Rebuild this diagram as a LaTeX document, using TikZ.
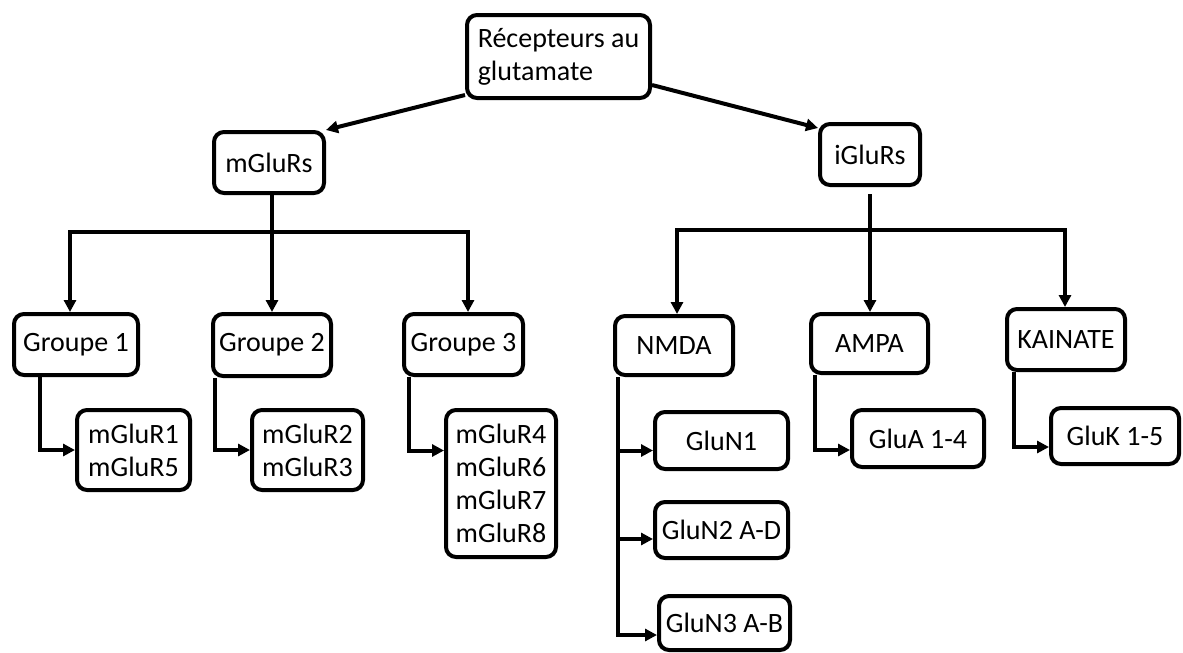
\documentclass[tikz,border=0pt]{standalone}
\usepackage{fontspec}
\setmainfont{Carlito}
\usetikzlibrary{arrows.meta}
\begin{document}
\begin{tikzpicture}[x=1pt,y=-1pt,
  box/.style={draw=black, line width=4pt, rounded corners=10pt, fill=white, inner sep=2pt, align=center, font=\fontsize{28}{33}\selectfont},
  sz/.style 2 args={minimum width=#1pt, minimum height=#2pt},
  ln/.style={line width=4pt},
  arr/.style={line width=4pt, -{Triangle[length=12pt,width=12pt]}},
  arrtwo/.style={line width=4pt, {Triangle[length=12pt,width=12pt]}-{Triangle[length=12pt,width=12pt]}},
]
\useasboundingbox (0,0) rectangle (1183,653);

% nodes
\node[box, sz={183}{83}, align=left] (top) at (558.5,56.5) {Récepteurs au\\glutamate};
\node[box, sz={110}{61}] (mglu) at (269,162.5) {mGluRs};
\node[box, sz={100}{61}] (iglu) at (870,154.5) {iGluRs};

\node[box, sz={124}{61}] (g1) at (76,344.5) {Groupe 1};
\node[box, sz={118}{62}] (g2) at (272,345) {Groupe 2};
\node[box, sz={119}{61}] (g3) at (463.5,344.5) {Groupe 3};

\node[box, sz={113}{80}] (m15) at (133.5,450) {mGluR1\\mGluR5};
\node[box, sz={111}{80}] (m23) at (307.5,450) {mGluR2\\mGluR3};
\node[box, sz={110}{147}] (m48) at (501,483.5) {mGluR4\\mGluR6\\mGluR7\\mGluR8};

\node[box, sz={118}{59}] (nmda) at (674,345.5) {NMDA};
\node[box, sz={117}{59}] (ampa) at (869.5,343.5) {AMPA};
\node[box, sz={118}{61}] (kai) at (1066,339.5) {KAINATE};

\node[box, sz={133}{57}] (n1) at (721.5,440.5) {GluN1};
\node[box, sz={133}{56}] (n2) at (721.5,530) {GluN2 A-D};
\node[box, sz={131}{54}] (n3) at (724.5,623) {GluN3 A-B};
\node[box, sz={132}{57}] (ga) at (918,438.5) {GluA 1-4};
\node[box, sz={128}{56}] (gk) at (1115,436) {GluK 1-5};

% top arrows
\draw[arr] ([yshift=5pt]top.south west) -- (mglu.north east);
\draw[arr] ([yshift=15pt]top.south east) -- ([yshift=-6pt]iglu.north west);

% mGluRs tree
\coordinate (mL) at (70,232);
\coordinate (mR) at (468,232);
\draw[arr] (g2.north |- mglu.south) -- (g2.north);
\draw[arrtwo] (mL |- g1.north) -- (mL) -- (mR) -- (mR |- g3.north);

% iGluRs tree
\coordinate (iL) at (677,230);
\coordinate (iR) at (1065,230);
\draw[arr] ([yshift=-7pt]iglu.south) -- (iglu.south |- ampa.north);
\draw[arrtwo] (iL |- nmda.north) -- (iL) -- (iR) -- (iR |- kai.north);

% sub-branches mGluRs
\draw[arr] ([xshift=28pt]g1.south west) |- (m15.west);
\draw[arr] ([xshift=4pt]g2.south west) |- (m23.west);
\draw[arr] ([xshift=7pt]g3.south west) |- ([yshift=33pt]m48.west);

% sub-branches iGluRs
\draw[arr] ([xshift=5pt]nmda.south west) |- ([yshift=-12pt]n3.west);
\draw[arr] ([xshift=5pt]nmda.south west) |- ([yshift=-10pt]n1.west);
\draw[arr] ([xshift=5pt]nmda.south west) |- ([yshift=-9pt]n2.west);
\draw[arr] ([xshift=6pt]ampa.south west) |- ([yshift=-11.5pt]ga.west);
\draw[arr] ([xshift=9pt]kai.south west) |- ([yshift=-11pt]gk.west);
\end{tikzpicture}
\end{document}
